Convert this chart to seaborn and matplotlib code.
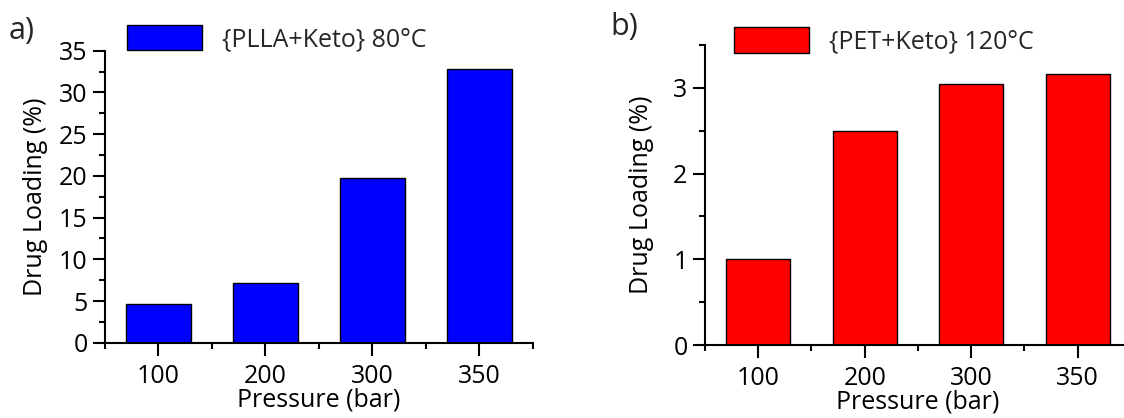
import matplotlib
matplotlib.use("Agg")
import matplotlib.pyplot as plt
from matplotlib.ticker import MultipleLocator, FixedLocator
import seaborn as sns
import pandas as pd

# Data
pressures = ["100", "200", "300", "350"]
plla_loading = [4.6, 7.2, 19.8, 32.8]
pet_loading = [1.0, 2.5, 3.04, 3.16]
plla_label = "{PLLA+Keto} 80°C"
pet_label = "{PET+Keto} 120°C"

sns.set_theme(style="ticks")
plt.rcParams["font.family"] = ["Open Sans", "DejaVu Sans"]
plt.rcParams["axes.linewidth"] = 1.5

fig = plt.figure(figsize=(11.24, 4.18), dpi=100)
ax_a = fig.add_axes([0.0934, 0.180, 0.3808, 0.6986])
ax_b = fig.add_axes([0.6272, 0.1746, 0.3790, 0.7177])

FS = 18


def draw_panel(ax, values, color, label, ymax, major, minor, leg_xy):
    df = pd.DataFrame({"Pressure": pressures, "Loading": values})
    sns.barplot(data=df, x="Pressure", y="Loading", ax=ax, color=color,
                saturation=1, width=0.6, edgecolor="black", linewidth=1.0,
                label=label)
    ax.set_xlim(-0.5, 3.5)
    ax.set_ylim(0, ymax)
    ax.yaxis.set_major_locator(MultipleLocator(major))
    ax.yaxis.set_minor_locator(MultipleLocator(minor))
    ax.xaxis.set_minor_locator(FixedLocator([-0.5, 0.5, 1.5, 2.5, 3.5]))
    ax.tick_params(axis="both", which="major", length=9, width=1.5,
                   labelsize=FS, direction="out", colors="black")
    ax.tick_params(axis="both", which="minor", length=4.5, width=1.5,
                   direction="out", colors="black")
    ax.tick_params(axis="x", which="major", pad=6)
    for s in ("top", "right"):
        ax.spines[s].set_visible(False)
    for s in ("left", "bottom"):
        ax.spines[s].set_color("black")
    ax.set_xlabel("Pressure (bar)", fontsize=FS, labelpad=-1, color="black")
    ax.set_ylabel("Drug Loading (%)", fontsize=FS, color="black")
    ax.legend(loc="center left", bbox_to_anchor=leg_xy, frameon=False,
              fontsize=FS, handlelength=3.0, handleheight=1.2,
              handletextpad=0.8, borderaxespad=0, borderpad=0)


draw_panel(ax_a, plla_loading, "#0000FF", plla_label, 35, 5, 2.5, (0.051, 1.043))
draw_panel(ax_b, pet_loading, "#FF0000", pet_label, 3.5, 1, 0.5, (0.068, 1.013))
ax_a.yaxis.labelpad = 8
ax_b.yaxis.labelpad = 14

fig.text(0.008, 0.925, "a)", fontsize=22, ha="left", va="center")
fig.text(0.543, 0.935, "b)", fontsize=22, ha="left", va="center")

fig.savefig("out.png", dpi=100)
